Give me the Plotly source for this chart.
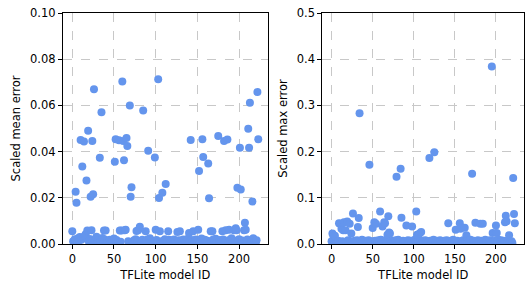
import plotly.graph_objects as go
from plotly.subplots import make_subplots

model_id = list(range(224))

mean_error = [
    0.0055, 0.0012, 0.0004, 0.0021, 0.0226, 0.0179, 0.0008, 0.0025, 0.0015, 0.0030, 0.0450, 0.0018, 0.0336, 0.0028, 0.0444, 0.0035,
    0.0042, 0.0275, 0.0058, 0.0490, 0.0010, 0.0022, 0.0205, 0.0060, 0.0446, 0.0215, 0.0670, 0.0006, 0.0019, 0.0031, 0.0009, 0.0014,
    0.0004, 0.0373, 0.0011, 0.0570, 0.0026, 0.0016, 0.0058, 0.0020, 0.0058, 0.0007, 0.0013, 0.0003, 0.0009, 0.0018, 0.0005, 0.0012,
    0.0006, 0.0015, 0.0024, 0.0356, 0.0453, 0.0017, 0.0008, 0.0004, 0.0449, 0.0058, 0.0010, 0.0058, 0.0703, 0.0446, 0.0363, 0.0060,
    0.0062, 0.0459, 0.0424, 0.0012, 0.0005, 0.0600, 0.0205, 0.0246, 0.0009, 0.0003, 0.0016, 0.0007, 0.0021, 0.0056, 0.0014, 0.0060,
    0.0002, 0.0075, 0.0011, 0.0006, 0.0018, 0.0578, 0.0008, 0.0004, 0.0055, 0.0013, 0.0020, 0.0404, 0.0010, 0.0025, 0.0006, 0.0015,
    0.0009, 0.0003, 0.0012, 0.0374, 0.0062, 0.0017, 0.0007, 0.0713, 0.0199, 0.0055, 0.0011, 0.0004, 0.0222, 0.0014, 0.0008, 0.0021,
    0.0260, 0.0006, 0.0012, 0.0055, 0.0018, 0.0003, 0.0009, 0.0015, 0.0005, 0.0011, 0.0020, 0.0007, 0.0013, 0.0004, 0.0052, 0.0010,
    0.0016, 0.0055, 0.0006, 0.0012, 0.0003, 0.0019, 0.0008, 0.0014, 0.0005, 0.0010, 0.0022, 0.0007, 0.0048, 0.0013, 0.0450, 0.0017,
    0.0009, 0.0055, 0.0004, 0.0011, 0.0020, 0.0006, 0.0015, 0.0062, 0.0316, 0.0008, 0.0013, 0.0024, 0.0453, 0.0377, 0.0005, 0.0018,
    0.0010, 0.0003, 0.0014, 0.0349, 0.0198, 0.0007, 0.0055, 0.0012, 0.0055, 0.0019, 0.0006, 0.0011, 0.0023, 0.0004, 0.0015, 0.0467,
    0.0009, 0.0017, 0.0005, 0.0012, 0.0055, 0.0020, 0.0446, 0.0008, 0.0060, 0.0014, 0.0452, 0.0006, 0.0062, 0.0018, 0.0010, 0.0025,
    0.0007, 0.0016, 0.0060, 0.0011, 0.0068, 0.0060, 0.0243, 0.0013, 0.0021, 0.0417, 0.0236, 0.0009, 0.0015, 0.0004, 0.0060, 0.0092,
    0.0062, 0.0012, 0.0019, 0.0499, 0.0417, 0.0612, 0.0008, 0.0014, 0.0184, 0.0025, 0.0006, 0.0011, 0.0003, 0.0016, 0.0658, 0.0453,
]

max_error = [
    0.0060, 0.0226, 0.0190, 0.0040, 0.0180, 0.0020, 0.0050, 0.0030, 0.0070, 0.0450, 0.0440, 0.0040, 0.0330, 0.0060, 0.0300, 0.0470,
    0.0020, 0.0300, 0.0050, 0.0487, 0.0080, 0.0030, 0.0440, 0.0060, 0.0226, 0.0040, 0.0660, 0.0020, 0.0070, 0.0050, 0.0030, 0.0080,
    0.0370, 0.0565, 0.2830, 0.0040, 0.0060, 0.0090, 0.0030, 0.0050, 0.0020, 0.0070, 0.0040, 0.0060, 0.0030, 0.0080, 0.1716, 0.0050,
    0.0020, 0.0060, 0.0345, 0.0040, 0.0470, 0.0070, 0.0440, 0.0030, 0.0050, 0.0080, 0.0060, 0.0706, 0.0090, 0.0040, 0.0380, 0.0070,
    0.0470, 0.0450, 0.0060, 0.0030, 0.0200, 0.0600, 0.0250, 0.0226, 0.0050, 0.0020, 0.0070, 0.0040, 0.0060, 0.0030, 0.0080, 0.1455,
    0.0050, 0.0090, 0.0040, 0.0060, 0.1630, 0.0570, 0.0030, 0.0070, 0.0050, 0.0020, 0.0060, 0.0400, 0.0040, 0.0080, 0.0030, 0.0050,
    0.0070, 0.0020, 0.0380, 0.0060, 0.0040, 0.0090, 0.0050, 0.0706, 0.0200, 0.0190, 0.0030, 0.0226, 0.0060, 0.0260, 0.0040, 0.0070,
    0.0050, 0.0020, 0.0080, 0.0040, 0.0060, 0.0030, 0.0050, 0.1860, 0.0070, 0.0040, 0.0020, 0.0060, 0.0090, 0.1985, 0.0050, 0.0030,
    0.0070, 0.0040, 0.0060, 0.0020, 0.0080, 0.0050, 0.0030, 0.0060, 0.0040, 0.0070, 0.0020, 0.0050, 0.0080, 0.0030, 0.0450, 0.0060,
    0.0040, 0.0070, 0.0020, 0.0050, 0.0090, 0.0030, 0.0060, 0.0310, 0.0040, 0.0070, 0.0050, 0.0020, 0.0450, 0.0330, 0.0060, 0.0040,
    0.0080, 0.0030, 0.0350, 0.0050, 0.0190, 0.0070, 0.0020, 0.0060, 0.0040, 0.0090, 0.0030, 0.1520, 0.0050, 0.0070, 0.0020, 0.0460,
    0.0060, 0.0040, 0.0080, 0.0030, 0.0050, 0.0440, 0.0070, 0.0020, 0.0440, 0.0060, 0.0040, 0.0090, 0.0030, 0.0050, 0.0070, 0.0020,
    0.0060, 0.0080, 0.0040, 0.3840, 0.0240, 0.0050, 0.0030, 0.0070, 0.0400, 0.0240, 0.0060, 0.0090, 0.0040, 0.0020, 0.0080, 0.0050,
    0.0030, 0.0070, 0.0060, 0.0470, 0.0610, 0.0490, 0.0040, 0.0080, 0.0190, 0.0050, 0.0030, 0.0060, 0.0020, 0.1430, 0.0650, 0.0450,
]

x_ticks = [0, 50, 100, 150, 200]
mean_ticks = [0.00, 0.02, 0.04, 0.06, 0.08, 0.10]
max_ticks = [0.0, 0.1, 0.2, 0.3, 0.4, 0.5]

color = "#6495ED"
font = dict(family="DejaVu Sans", size=11.5, color="black")

fig = make_subplots(rows=1, cols=2)
fig.add_trace(go.Scatter(x=model_id, y=mean_error, mode="markers",
                         marker=dict(color=color, size=8, line=dict(width=0)),
                         showlegend=False), row=1, col=1)
fig.add_trace(go.Scatter(x=model_id, y=max_error, mode="markers",
                         marker=dict(color=color, size=8, line=dict(width=0)),
                         showlegend=False), row=1, col=2)

common_x = dict(range=[-11.15, 234.15], tickvals=x_ticks, showline=True, mirror=True,
                linecolor="black", linewidth=1.2, ticks="outside", ticklen=4, tickcolor="black",
                showgrid=True, gridcolor="#c8c8c8", griddash="dash", gridwidth=1, zeroline=False,
                title=dict(text="TFLite model ID", font=font, standoff=6), tickfont=font)
fig.update_xaxes(**common_x)
fig.update_xaxes(domain=[0, 0.4437], row=1, col=1)
fig.update_xaxes(domain=[0.5628, 1], row=1, col=2)

common_y = dict(showline=True, mirror=True, linecolor="black", linewidth=1.2, ticks="outside",
                ticklen=4, tickcolor="black", showgrid=True, gridcolor="#c8c8c8",
                griddash="dash", gridwidth=1, zeroline=False, tickfont=font)
fig.update_yaxes(**common_y)
fig.update_yaxes(range=[0, 0.1], tickvals=mean_ticks, tickformat=".2f",
                 title=dict(text="Scaled mean error", font=font, standoff=6), row=1, col=1)
fig.update_yaxes(range=[0, 0.5], tickvals=max_ticks, tickformat=".1f",
                 title=dict(text="Scaled max error", font=font, standoff=6), row=1, col=2)

fig.update_layout(width=531, height=287, margin=dict(l=63, r=6, t=8, b=43),
                  plot_bgcolor="white", paper_bgcolor="white", font=font)

fig.write_html("out.html", config={"displayModeBar": False},
               post_script="document.body.style.margin='0';")
